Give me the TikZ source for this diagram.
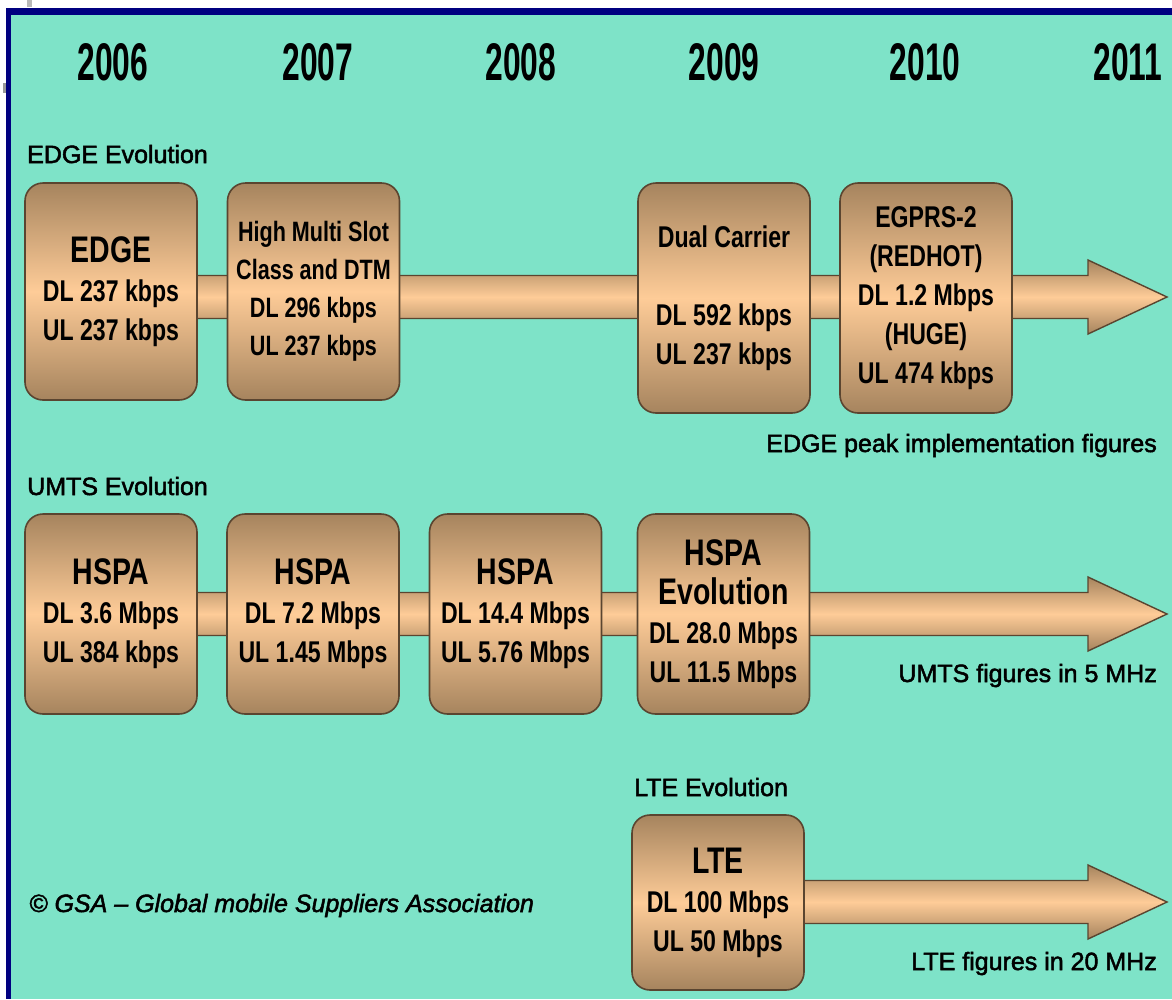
\documentclass[tikz,border=0pt]{standalone}
\usepackage{fontspec}
\setmainfont{Liberation Sans}
\newfontfamily\narrowfont[FakeStretch=0.77]{Liberation Sans}
\newfontfamily\yearfont[FakeStretch=0.6]{Liberation Sans}
\newfontfamily\labelfont[FakeBold=2]{Liberation Sans}
\usetikzlibrary{calc,backgrounds}
\definecolor{sea}{HTML}{7EE3C8}
\definecolor{rim}{HTML}{000080}
\definecolor{boxtop}{HTML}{A6845E}
\definecolor{boxmid}{HTML}{FECC98}
\definecolor{boxline}{HTML}{5A4530}

\tikzset{
  evobox/.style={draw=boxline,line width=1.6pt,rounded corners=18pt,
    top color=boxtop,bottom color=boxtop,middle color=boxmid,
    minimum width=172pt,align=center,inner sep=0pt,
    font=\narrowfont\bfseries\fontsize{30}{39}\selectfont},
  evobar/.style={draw=boxline,line width=1.4pt,
    top color=boxtop,bottom color=boxtop,middle color=boxmid},
  year/.style={anchor=base,inner sep=0pt,
    font=\yearfont\bfseries\fontsize{53}{53}\selectfont},
  rowlabel/.style={inner sep=0pt,font=\labelfont\fontsize{25}{25}\selectfont}
}
\newcommand\boxtitle[1]{{\fontsize{37}{44}\selectfont #1}}
\newcommand\evoarrow[2]{%
  \path[evobar] let \p1=(#1.center), \p2=(#2) in
    (\x1,\y2+21.5pt) -- (\x2-79pt,\y2+21.5pt) -- (\x2-79pt,\y2+37pt) -- (\p2)
    -- (\x2-79pt,\y2-37pt) -- (\x2-79pt,\y2-21.5pt) -- (\x1,\y2-21.5pt) -- cycle;}

\begin{document}
\begin{tikzpicture}[x=1pt,y=-1pt]
 \useasboundingbox (0,0) rectangle (1172,999);
 \begin{scope}[on background layer]
  \fill[white] (0,0) rectangle (1172,999);
  \fill[sea] (11,15) rectangle (1172,999);
  \fill[rim] (6,8) rectangle (1172,15);
  \fill[rim] (6,8) rectangle (11,999);
  \fill[gray!55] (27,0) rectangle (32,7);
  \fill[gray!80] (3,83) rectangle (6,93);
 \end{scope}

 \node[year] (yA) at (113,80) {2006};
 \node[year] (yB) at (318,80) {2007};
 \node[year] (yC) at (521,80) {2008};
 \node[year] (yD) at (724,80) {2009};
 \node[year] (yE) at (925,80) {2010};
 \node[year] (yF) at (1128,80) {2011};

 \node[rowlabel,anchor=base west] (edgerow) at (27,163) {EDGE Evolution};
 \node[rowlabel,anchor=base west] (umtsrow) at (27,495) {UMTS Evolution};
 \node[rowlabel,anchor=base west] (lterow) at (634,796) {LTE Evolution};
 \node[rowlabel,anchor=base east] (edgenote) at (1157,452) {EDGE peak implementation figures};
 \node[rowlabel,anchor=base east] (umtsnote) at (1157,682) {UMTS figures in 5 MHz};
 \node[rowlabel,anchor=base east] (ltenote) at (1157,970) {LTE figures in 20 MHz};
 \node[rowlabel,anchor=base west,font=\labelfont\itshape\fontsize{25}{25}\selectfont]
   (gsa) at (29,912) {© GSA – Global mobile Suppliers Association};

 \node[evobox,minimum height=217pt] (edge) at (111,291.5)
   {\boxtitle{EDGE}\\DL 237 kbps\\UL 237 kbps};
 \node[evobox,minimum height=217pt,font=\narrowfont\bfseries\fontsize{28}{38}\selectfont]
   (multislot) at (313.5,291.5)
   {High Multi Slot\\Class and DTM\\DL 296 kbps\\UL 237 kbps};
 \node[evobox,minimum height=230pt] (dualcarrier) at (724,298)
   {Dual Carrier\\[39pt]DL 592 kbps\\UL 237 kbps};
 \node[evobox,minimum height=230pt] (egprs) at (926,298)
   {EGPRS-2\\(REDHOT)\\DL 1.2 Mbps\\(HUGE)\\UL 474 kbps};

 \node[evobox,minimum height=200pt] (umtsA) at (111,614)
   {\boxtitle{HSPA}\\DL 3.6 Mbps\\UL 384 kbps};
 \node[evobox,minimum height=200pt] (umtsB) at (313,614)
   {\boxtitle{HSPA}\\DL 7.2 Mbps\\UL 1.45 Mbps};
 \node[evobox,minimum height=200pt] (umtsC) at (515.5,614)
   {\boxtitle{HSPA}\\DL 14.4 Mbps\\UL 5.76 Mbps};
 \node[evobox,minimum height=200pt] (hspaevo) at (723.5,614)
   {\boxtitle{HSPA}\\\boxtitle{Evolution}\\DL 28.0 Mbps\\UL 11.5 Mbps};

 \node[evobox,minimum height=175pt] (lte) at (718,902.5)
   {\boxtitle{LTE}\\DL 100 Mbps\\UL 50 Mbps};

 \coordinate (edgetip) at (1167,297);
 \coordinate (umtstip) at (1167,614);
 \coordinate (ltetip) at (1167,902);
 \begin{scope}[on background layer]
  \evoarrow{edge}{edgetip}
  \evoarrow{umtsA}{umtstip}
  \evoarrow{lte}{ltetip}
 \end{scope}
\end{tikzpicture}
\end{document}
